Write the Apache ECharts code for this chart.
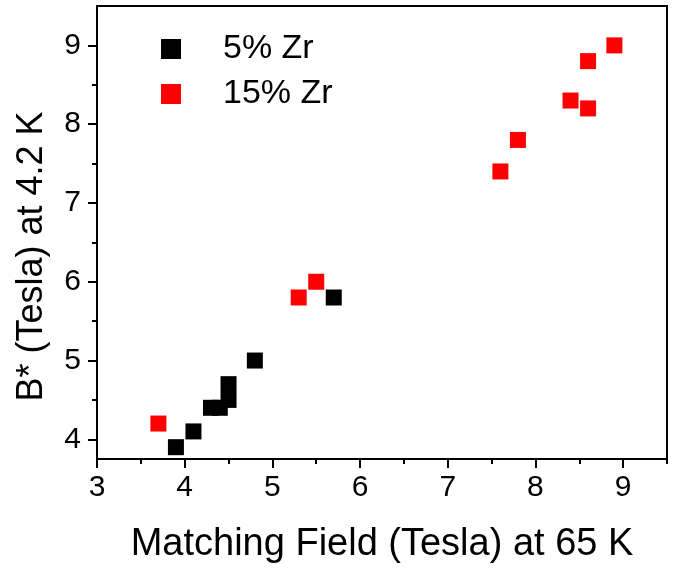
<!DOCTYPE html>
<html style="height: 100%">
<head>
    <meta charset="utf-8">
</head>
<body style="height: 100%; margin: 0; background-color: #fff;">
<div id="container" style="width: 676px; height: 569px"></div>
<script type="text/javascript" src="https://cdn.jsdelivr.net/npm/echarts@6/dist/echarts.min.js"></script>
<script type="text/javascript">
    // 5% Zr
    var zr5X = [3.9, 4.1, 4.3, 4.4, 4.5, 4.5, 4.8, 5.7];
    var zr5Y = [3.9, 4.1, 4.4, 4.4, 4.5, 4.7, 5.0, 5.8];
    // 15% Zr
    var zr15X = [3.7, 5.3, 5.5, 7.6, 7.8, 8.4, 8.6, 8.6, 8.9];
    var zr15Y = [4.2, 5.8, 6.0, 7.4, 7.8, 8.3, 8.2, 8.8, 9.0];

    var xMajor = [3, 4, 5, 6, 7, 8, 9];
    var xMinor = [3.5, 4.5, 5.5, 6.5, 7.5, 8.5, 9.5];
    var yMajor = [4, 5, 6, 7, 8, 9];
    var yMinor = [4.5, 5.5, 6.5, 7.5, 8.5];

    function pairs(xs, ys) {
        return xs.map(function (x, i) { return [x, ys[i]]; });
    }

    var font = 'Liberation Sans, Arial, sans-serif';
    var lineStyle = {color: '#000', width: 2};

    var myChart = echarts.init(document.getElementById('container'));

    var option = {
        animation: false,
        textStyle: {fontFamily: font},
        grid: {
            left: 97, right: 9, top: 6, bottom: 110,
            show: true, borderColor: '#000', borderWidth: 2
        },
        legend: {
            left: 161, top: 32, padding: 0,
            orient: 'vertical',
            itemWidth: 20, itemHeight: 20, itemGap: 11,
            icon: 'rect',
            textStyle: {fontSize: 34, color: '#000', fontFamily: font, padding: [0, 0, 0, 37], lineHeight: 34},
            data: ['5% Zr', '15% Zr']
        },
        xAxis: [{
            type: 'value', min: 3, max: 9.5,
            name: 'Matching Field (Tesla) at 65 K',
            nameLocation: 'middle', nameGap: 67,
            nameTextStyle: {fontSize: 38, color: '#000', fontFamily: font},
            splitLine: {show: false},
            axisLine: {lineStyle: lineStyle},
            axisTick: {length: 9, lineStyle: lineStyle, customValues: xMajor},
            axisLabel: {fontSize: 30, color: '#000', margin: 14, customValues: xMajor, fontFamily: font}
        }, {
            type: 'value', min: 3, max: 9.5, position: 'bottom',
            splitLine: {show: false},
            axisLine: {show: false},
            axisTick: {length: 5, lineStyle: lineStyle, customValues: xMinor},
            axisLabel: {show: false}
        }],
        yAxis: [{
            type: 'value', min: 3.75, max: 9.5,
            name: 'B* (Tesla) at 4.2 K',
            nameLocation: 'middle', nameGap: 47,
            nameTextStyle: {fontSize: 36, color: '#000', fontFamily: font, padding: [0, 48, 0, 0]},
            splitLine: {show: false},
            axisLine: {lineStyle: lineStyle},
            axisTick: {length: 9, lineStyle: lineStyle, customValues: yMajor},
            axisLabel: {fontSize: 30, color: '#000', margin: 16, customValues: yMajor, fontFamily: font}
        }, {
            type: 'value', min: 3.75, max: 9.5, position: 'left',
            splitLine: {show: false},
            axisLine: {show: false},
            axisTick: {length: 5, lineStyle: lineStyle, customValues: yMinor},
            axisLabel: {show: false}
        }],
        series: [{
            name: '5% Zr', type: 'scatter',
            symbol: 'rect', symbolSize: 16,
            itemStyle: {color: '#000', opacity: 1},
            data: pairs(zr5X, zr5Y)
        }, {
            name: '15% Zr', type: 'scatter',
            symbol: 'rect', symbolSize: 16,
            itemStyle: {color: '#ff0000', opacity: 1},
            data: pairs(zr15X, zr15Y)
        }]
    };
    myChart.setOption(option);
</script>
</body>
</html>
